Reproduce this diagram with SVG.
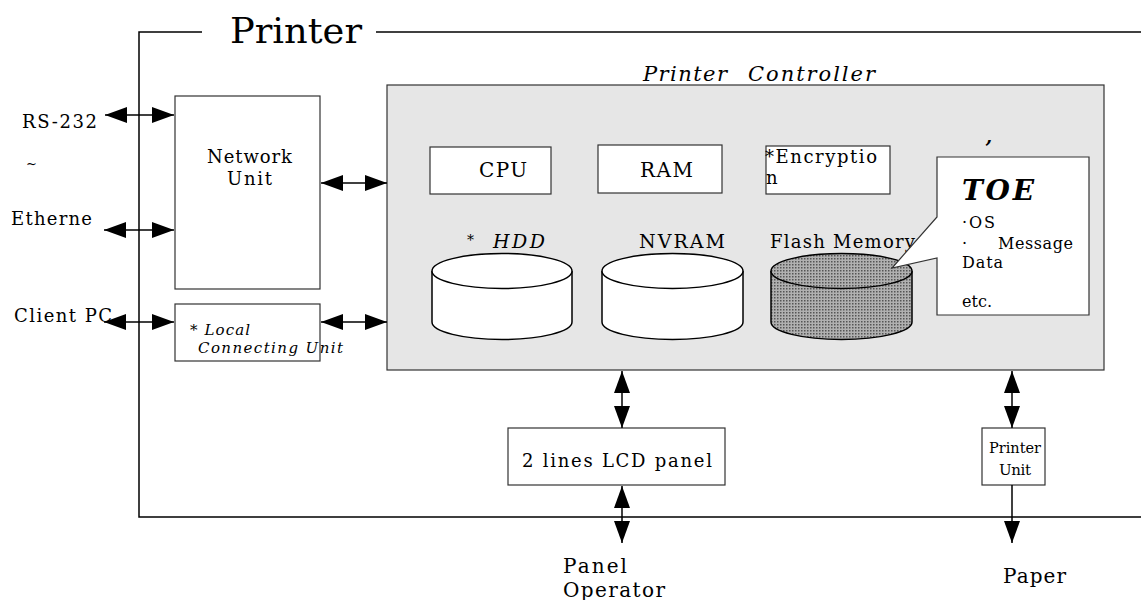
<svg xmlns="http://www.w3.org/2000/svg" width="1141" height="600" viewBox="0 0 1141 600">
<defs>
<marker id="ah" markerUnits="userSpaceOnUse" markerWidth="24" markerHeight="16" refX="22" refY="8" orient="auto-start-reverse">
<path d="M0,0 L22,8 L0,16 Z" fill="#000"/>
</marker>
<pattern id="dots" width="3" height="3" patternUnits="userSpaceOnUse">
<rect width="3" height="3" fill="#b0b0b0"/>
<rect width="1.5" height="1.5" fill="#555"/>
</pattern>
<style>
.t{font-family:"DejaVu Serif",serif;fill:#000}
.box{fill:#fff;stroke:#333;stroke-width:1.2}
.ln{stroke:#000;stroke-width:1.5;fill:none}
.cn{stroke:#000;stroke-width:1.5;fill:none;marker-start:url(#ah);marker-end:url(#ah)}
</style>
</defs>
<rect width="1141" height="600" fill="#fff"/>
<g id="frame">
<path class="ln" d="M202,32 H139 V517 H1141"/>
<line class="ln" x1="376" y1="32" x2="1141" y2="32"/>
<text class="t" x="230" y="43" font-size="36" textLength="132" lengthAdjust="spacingAndGlyphs">Printer</text>
</g>
<g id="controller">
<rect x="387" y="85" width="717" height="285" fill="#e6e6e6" stroke="#333" stroke-width="1.2"/>
<text class="t" x="643" y="81" font-size="21" font-style="italic" textLength="84" lengthAdjust="spacing">Printer</text>
<text class="t" x="748" y="81" font-size="21" font-style="italic" textLength="127" lengthAdjust="spacing">Controller</text>
</g>
<g id="network-unit">
<rect class="box" x="175" y="96" width="145" height="193"/>
<text class="t" x="207" y="163" font-size="18" textLength="85" lengthAdjust="spacing">Network</text>
<text class="t" x="227" y="185" font-size="18" textLength="45" lengthAdjust="spacing">Unit</text>
</g>
<g id="local-unit">
<rect class="box" x="175" y="304" width="145" height="57"/>
<text class="t" x="190" y="335" font-size="15" font-style="italic" textLength="60" lengthAdjust="spacing">* Local</text>
<text class="t" x="198" y="353" font-size="15" font-style="italic" textLength="145" lengthAdjust="spacing">Connecting Unit</text>
</g>
<g id="cpu">
<rect class="box" x="430" y="147" width="121" height="47"/>
<text class="t" x="479" y="177" font-size="20" textLength="48" lengthAdjust="spacing">CPU</text>
</g>
<g id="ram">
<rect class="box" x="598" y="145" width="124" height="48"/>
<text class="t" x="640" y="177" font-size="20" textLength="53" lengthAdjust="spacing">RAM</text>
</g>
<g id="encryption">
<rect class="box" x="766" y="146" width="124" height="48"/>
<text class="t" x="765" y="163" font-size="18" textLength="112" lengthAdjust="spacing">*Encryptio</text>
<text class="t" x="766" y="184" font-size="18">n</text>
</g>
<g id="hdd">
<text class="t" x="467" y="245" font-size="14">*</text>
<text class="t" x="493" y="248" font-size="19" font-style="italic" textLength="52" lengthAdjust="spacing">HDD</text>
<path d="M432,271 V322 A70,17.5 0 0 0 572,322 V271" fill="#fff" stroke="#000" stroke-width="1.5"/>
<ellipse cx="502" cy="271" rx="70" ry="17.5" fill="#fff" stroke="#000" stroke-width="1.5"/>
</g>
<g id="nvram">
<text class="t" x="639" y="248" font-size="19" textLength="86" lengthAdjust="spacing">NVRAM</text>
<path d="M602,271 V322 A70.5,17.5 0 0 0 743,322 V271" fill="#fff" stroke="#000" stroke-width="1.5"/>
<ellipse cx="672.5" cy="271" rx="70.5" ry="17.5" fill="#fff" stroke="#000" stroke-width="1.5"/>
</g>
<g id="flash">
<text class="t" x="770" y="248" font-size="18" textLength="145" lengthAdjust="spacing">Flash Memory</text>
<path d="M771,271 V322 A70.5,17.5 0 0 0 912,322 V271" fill="url(#dots)" stroke="#000" stroke-width="1.5"/>
<ellipse cx="841.5" cy="271" rx="70.5" ry="17.5" fill="url(#dots)" stroke="#000" stroke-width="1.5"/>
</g>
<g id="toe">
<path d="M937,157 H1089 V315 H937 V258 L892,268 L937,217 Z" fill="#fff" stroke="#333" stroke-width="1.2"/>
<text class="t" x="985" y="155" font-size="20" font-weight="bold" font-style="italic">’</text>
<text class="t" x="962" y="200" font-size="28" font-weight="bold" font-style="italic" textLength="72" lengthAdjust="spacing">TOE</text>
<text class="t" x="962" y="228" font-size="16" textLength="33" lengthAdjust="spacing">·OS</text>
<text class="t" x="962" y="249" font-size="16">·</text>
<text class="t" x="998" y="249" font-size="16" textLength="75" lengthAdjust="spacing">Message</text>
<text class="t" x="962" y="268" font-size="16" textLength="41" lengthAdjust="spacing">Data</text>
<text class="t" x="962" y="307" font-size="16" textLength="30" lengthAdjust="spacing">etc.</text>
</g>
<g id="lcd">
<rect class="box" x="508" y="428" width="217" height="57"/>
<text class="t" x="522" y="467" font-size="18" textLength="190" lengthAdjust="spacing">2 lines LCD panel</text>
</g>
<g id="printer-unit">
<rect class="box" x="982" y="428" width="63" height="57"/>
<text class="t" x="989" y="453" font-size="15" textLength="52" lengthAdjust="spacingAndGlyphs">Printer</text>
<text class="t" x="999" y="475" font-size="15" textLength="32" lengthAdjust="spacing">Unit</text>
</g>
<g id="external-labels">
<text class="t" x="22" y="128" font-size="18" textLength="75" lengthAdjust="spacing">RS-232</text>
<text class="t" x="26" y="168" font-size="13">~</text>
<text class="t" x="11" y="225" font-size="18" textLength="81" lengthAdjust="spacing">Etherne</text>
<text class="t" x="14" y="322" font-size="18" textLength="98" lengthAdjust="spacing">Client PC</text>
<text class="t" x="563" y="573" font-size="20" textLength="64" lengthAdjust="spacing">Panel</text>
<text class="t" x="563" y="597" font-size="20" textLength="102" lengthAdjust="spacing">Operator</text>
<text class="t" x="1003" y="583" font-size="20" textLength="63" lengthAdjust="spacing">Paper</text>
</g>
<g id="connectors">
<line class="cn" x1="105" y1="115" x2="174" y2="115"/>
<line class="cn" x1="104" y1="230" x2="174" y2="230"/>
<line class="cn" x1="104" y1="322" x2="174" y2="322"/>
<line class="cn" x1="321" y1="183" x2="387" y2="183"/>
<line class="cn" x1="321" y1="322" x2="387" y2="322"/>
<line class="cn" x1="622" y1="371" x2="622" y2="428"/>
<line class="cn" x1="622" y1="486" x2="622" y2="543"/>
<line class="cn" x1="1012" y1="371" x2="1012" y2="428"/>
<line class="ln" x1="1012" y1="485" x2="1012" y2="543" marker-end="url(#ah)"/>
</g>
</svg>
